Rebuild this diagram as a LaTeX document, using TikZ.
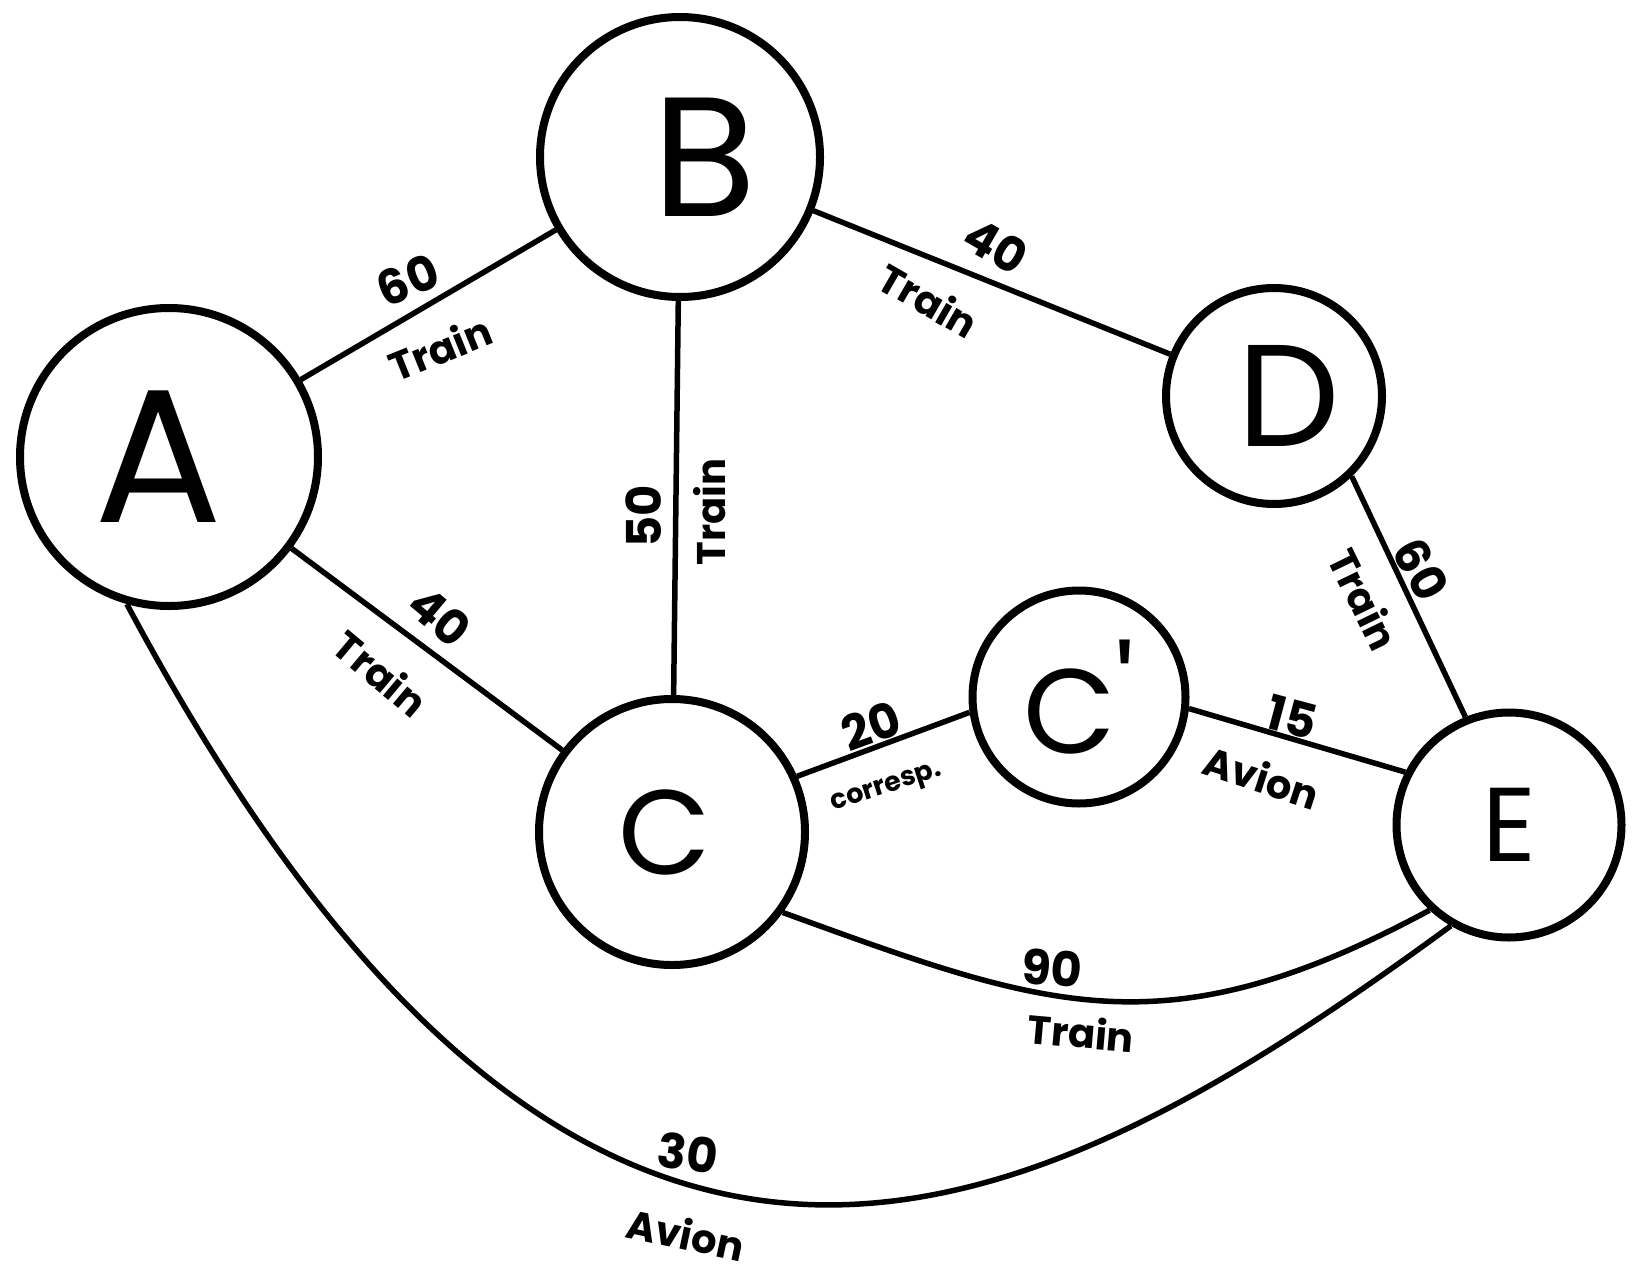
\documentclass[tikz,border=0pt]{standalone}
\usepackage{fontspec}
\setmainfont{Poppins}
\begin{document}
\begin{tikzpicture}[x=1pt,y=-1pt,
  vtx/.style={circle, draw, line width=8pt, inner sep=0pt},
  link/.style={line width=5.5pt},
  wt/.style={font=\fontsize{48}{48}\selectfont\bfseries, inner sep=0pt},
  mode/.style={font=\fontsize{40}{40}\selectfont\bfseries, inner sep=0pt},
  small/.style={font=\fontsize{27}{27}\selectfont\bfseries, inner sep=0pt}]
% page area
\fill[white] (0,0) rectangle (1646,1274);
\useasboundingbox (0,0) rectangle (1646,1274);

% stations
\node[vtx, minimum size=298pt] (A)  at (169,457)  {\fontsize{190}{190}\selectfont A\kern20pt};
\node[vtx, minimum size=280pt] (B)  at (680,157)  {\fontsize{170}{170}\selectfont\kern50pt B};
\node[vtx, minimum size=266pt] (C)  at (672,832)  {\fontsize{120}{120}\selectfont C\kern14pt};
\node[vtx, minimum size=213pt] (Cp) at (1079,697) {\fontsize{120}{120}\selectfont C\raisebox{0.15em}{\textquotesingle}};
\node[vtx, minimum size=216pt] (D)  at (1274,396) {\fontsize{145}{145}\selectfont\kern30pt D};
\node[vtx, minimum size=225pt] (E)  at (1509,825) {\fontsize{105}{105}\selectfont E};

% connections
\draw[link] (A) -- (B);
\draw[link] (A) -- (C);
\draw[link] (B) -- (C);
\draw[link] (B) -- (D);
\draw[link] (D.-46) -- (E.112);
\draw[link] (C.24) -- (Cp.188);
\draw[link] (Cp.-6) -- (E.153);
\draw[link] (C.-36) .. controls (1046,1008) and (1163,1054) .. (E.227);
\draw[link] (A.254) .. controls (585,1462) and (1023,1239) .. (E.240);

% durations and modes
\node[wt, rotate=22]   (w1) at (408,280)  {60};
\node[mode, rotate=22] (m1) at (440,348)  {Train};
\node[wt, rotate=-30]  (w2) at (996,246)  {40};
\node[mode, rotate=-30](m2) at (929,300)  {Train};
\node[wt, rotate=90]   (w3) at (644,516)  {50};
\node[mode, rotate=90] (m3) at (710,512)  {Train};
\node[wt, rotate=-40]  (w4) at (440,616)  {40};
\node[mode, rotate=-40](m4) at (381,673)  {Train};
\node[wt, rotate=20]   (w5) at (871,726)  {20};
\node[small, rotate=18](m5) at (887,789)  {corresp.};
\node[wt, rotate=-15]  (w6) at (1292,717) {15};
\node[mode, rotate=-18](m6) at (1262,777) {Avion};
\node[wt, rotate=-62]  (w7) at (1421,569) {60};
\node[mode, rotate=-64](m7) at (1364,599) {Train};
\node[wt, rotate=-5]   (w8) at (1052,968) {90};
\node[mode, rotate=-5] (m8) at (1081,1032){Train};
\node[wt, rotate=-8]   (w9) at (688,1153) {30};
\node[mode, rotate=-12](m9) at (686,1234) {Avion};
\end{tikzpicture}
\end{document}
